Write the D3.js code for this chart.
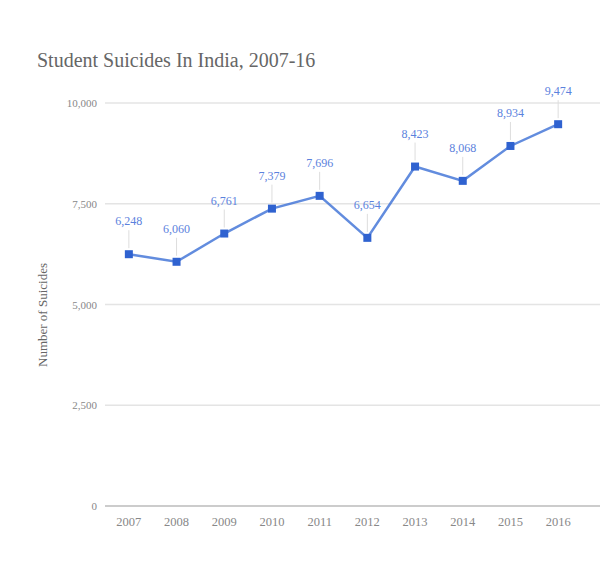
<!DOCTYPE html>
<html><head><meta charset="utf-8">
<script src="https://cdn.jsdelivr.net/npm/d3@7"></script>
<style>body{margin:0;background:#fff}</style>
</head><body>
<svg id="c" width="604" height="564"></svg>
<script>
const years = ["2007","2008","2009","2010","2011","2012","2013","2014","2015","2016"];
const suicides = [6248, 6060, 6761, 7379, 7696, 6654, 8423, 8068, 8934, 9474];
const yTicks = [0, 2500, 5000, 7500, 10000];
const title = "Student Suicides In India, 2007-16";
const yTitle = "Number of Suicides";

const svg = d3.select("#c");
const x = d3.scaleBand().domain(years).range([105, 582]);
const y = d3.scaleLinear().domain([0, 10000]).range([506, 103]);
const fmt = d3.format(",");

svg.append("text").attr("x", 37).attr("y", 67)
  .attr("font-family", "Liberation Serif, serif").attr("font-size", 20)
  .attr("fill", "#666").text(title);

// gridlines
svg.append("g").selectAll("line").data(yTicks).join("line")
  .attr("x1", 105).attr("x2", 600)
  .attr("y1", d => y(d)).attr("y2", d => y(d))
  .attr("stroke", d => d === 0 ? "#bbb" : "#e4e4e4").attr("stroke-width", 1.5);

const yAxis = svg.append("g").attr("transform", "translate(97,0)")
  .call(d3.axisLeft(y).tickValues(yTicks).tickFormat(d => d === 0 ? "0" : fmt(d)).tickSize(0).tickPadding(0));
yAxis.select(".domain").remove();
yAxis.selectAll("text").attr("font-family", "Liberation Serif, serif").attr("font-size", 11).attr("fill", "#888");

const xAxis = svg.append("g").attr("transform", "translate(0,517)")
  .call(d3.axisBottom(x).tickSize(0).tickPadding(0));
xAxis.select(".domain").remove();
xAxis.selectAll("text").attr("font-family", "Liberation Serif, serif").attr("font-size", 12.5).attr("fill", "#888");

svg.append("text").attr("transform", "translate(47,315) rotate(-90)")
  .attr("text-anchor", "middle").attr("font-family", "Liberation Serif, serif")
  .attr("font-size", 13).attr("fill", "#666").text(yTitle);

const cx = d => x(d) + x.bandwidth() / 2;
const pts = years.map((yr, i) => ({yr, v: suicides[i]}));

// annotation stems
svg.append("g").selectAll("line").data(pts).join("line")
  .attr("x1", d => cx(d.yr)).attr("x2", d => cx(d.yr))
  .attr("y1", d => y(d.v) - 24).attr("y2", d => y(d.v) - 6)
  .attr("stroke", "#ddd").attr("stroke-width", 1);

svg.append("path").datum(pts)
  .attr("d", d3.line().x(d => cx(d.yr)).y(d => y(d.v)))
  .attr("fill", "none").attr("stroke", "#3b6fd6").attr("stroke-width", 2.5).attr("stroke-opacity", 0.8);

svg.append("g").selectAll("rect").data(pts).join("rect")
  .attr("x", d => cx(d.yr) - 4).attr("y", d => y(d.v) - 4)
  .attr("width", 8).attr("height", 8).attr("fill", "#2f62d0");

svg.append("g").selectAll("text").data(pts).join("text")
  .attr("x", d => cx(d.yr)).attr("y", d => y(d.v) - 29)
  .attr("text-anchor", "middle").attr("font-family", "Liberation Serif, serif")
  .attr("font-size", 12).attr("fill", "#5b82dd").text(d => fmt(d.v));
</script>
</body></html>
